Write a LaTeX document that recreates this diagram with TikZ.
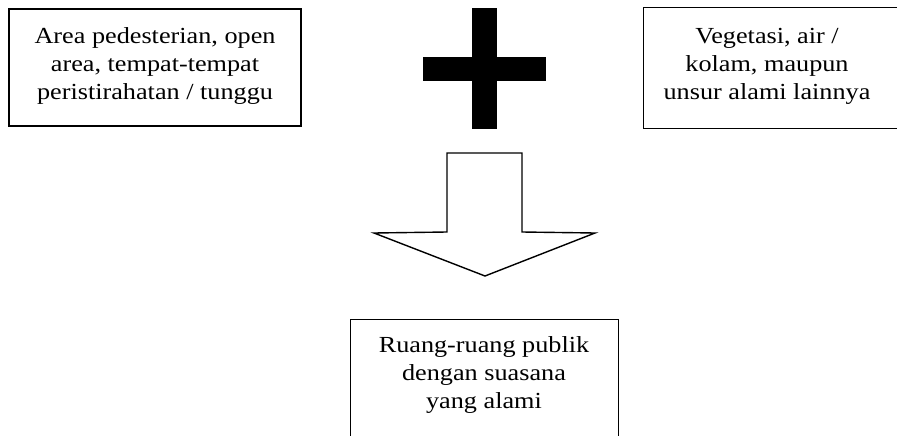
\documentclass[tikz,border=0pt]{standalone}
\usepackage{fontspec}
\setmainfont{Liberation Serif}[FakeStretch=1.14]
\begin{document}
\begin{tikzpicture}[x=1pt,y=-1pt,
  frame/.style={draw=black,line width=1.4pt,inner sep=0pt},
  label/.style={align=center,font=\fontsize{23}{28}\selectfont,inner sep=0pt},
  bigarrow/.style={draw=black,fill=white,line width=1.4pt,line join=miter}]
  \useasboundingbox (0,0) rectangle (897,436);
  \clip (0,0) rectangle (897,436);

  % left input box
  \node[frame,minimum width=292pt,minimum height=117pt] (lbox) at (155,67.5) {};
  \node[label] (ltext) at (155,66) {Area pedesterian, open\\area, tempat-tempat\\peristirahatan / tunggu};

  % right input box (runs off the right edge)
  \node[frame,minimum width=280pt,minimum height=121pt,anchor=north west] (rbox) at (643,7) {};
  \node[label] (rtext) at (767,66) {Vegetasi, air /\\kolam, maupun\\unsur alami lainnya};

  % plus sign between the two inputs
  \fill[black] (472,8) rectangle (497,129);
  \fill[black] (423,57) rectangle (546,81);

  % block arrow pointing down
  \draw[bigarrow] (447,153) -- (522,153) -- (522,232) -- (595,233)
    -- (485,276) -- (374,233) -- (447,232) -- cycle;

  % result box (runs off the bottom edge)
  \node[frame,minimum width=268pt,minimum height=140pt,anchor=north west] (bbox) at (350,319) {};
  \node[label] (btext) at (484,375) {Ruang-ruang publik\\dengan suasana\\yang alami};
\end{tikzpicture}
\end{document}
